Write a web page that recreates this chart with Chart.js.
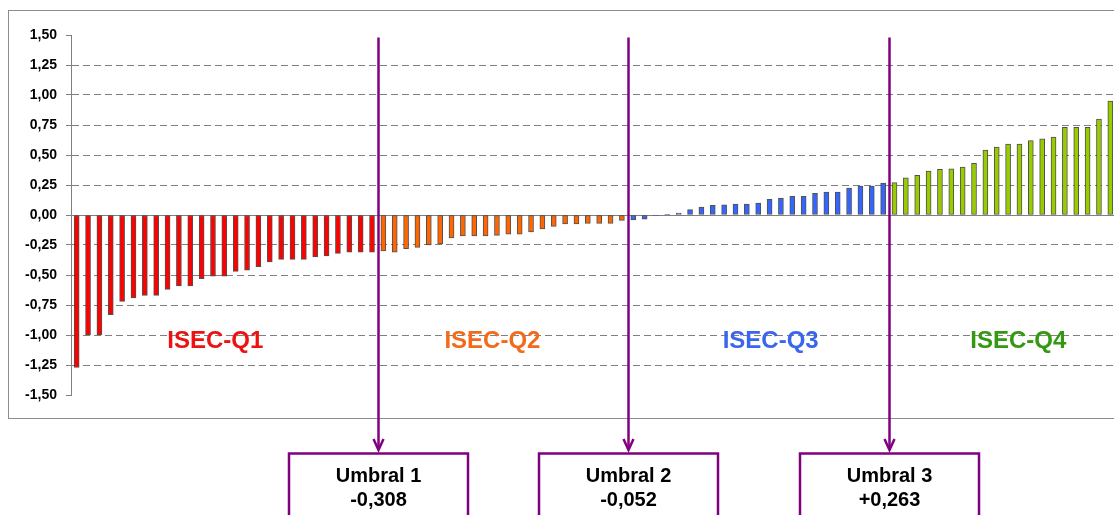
<!DOCTYPE html>
<html>
<head>
<meta charset="utf-8">
<script src="https://cdn.jsdelivr.net/npm/chart.js@4"></script>
<style>
  html, body { margin: 0; padding: 0; background: #fff; overflow: hidden; }
</style>
</head>
<body>
<canvas id="myChart" width="1120" height="515"></canvas>
<script>
// bar values per quartile group
var q1 = [-1.27, -1.00, -1.00, -0.83, -0.72, -0.69, -0.67, -0.67, -0.62, -0.59, -0.59, -0.53, -0.51, -0.51,
          -0.47, -0.46, -0.43, -0.39, -0.37, -0.37, -0.37, -0.35, -0.34, -0.32, -0.31, -0.31, -0.31];
var q2 = [-0.30, -0.31, -0.28, -0.27, -0.25, -0.24, -0.19, -0.175, -0.175, -0.175, -0.17, -0.16, -0.16,
          -0.14, -0.115, -0.095, -0.075, -0.075, -0.07, -0.07, -0.07, -0.045];
var q3 = [-0.04, -0.035, -0.005, 0.005, 0.015, 0.045, 0.065, 0.08, 0.085, 0.09, 0.09, 0.10, 0.13, 0.14,
          0.155, 0.155, 0.18, 0.19, 0.19, 0.225, 0.24, 0.24, 0.265];
var q4 = [0.27, 0.31, 0.33, 0.365, 0.38, 0.385, 0.40, 0.43, 0.54, 0.565, 0.59, 0.59, 0.62, 0.635, 0.65,
          0.73, 0.73, 0.73, 0.80, 0.95];

var groupNames = ['ISEC-Q1', 'ISEC-Q2', 'ISEC-Q3', 'ISEC-Q4'];
var thresholdNames = ['Umbral 1', 'Umbral 2', 'Umbral 3'];
var thresholds = [-0.308, -0.052, 0.263];

var groups = [q1, q2, q3, q4];
var fills = ['#ff0000', '#ff6600', '#3366ff', '#99cc00'];
var textColors = ['#ee1111', '#f26a1b', '#3a66ee', '#339911'];
var labelIdx = [12.2, 36.6, 61.1, 82.9];  // where the group names sit (category index)

var values = [], colors = [], labels = [], starts = [];
groups.forEach(function (g, gi) {
    starts.push(values.length);
    g.forEach(function (v) {
        labels.push(String(values.length + 1));
        values.push(v);
        colors.push(fills[gi]);
    });
});

var FONT = '"Liberation Sans", Arial, sans-serif';
var PURPLE = '#800080';

function fmt(v, d) {
    if (Math.abs(v) < 1e-9) v = 0;
    return v.toFixed(d).replace('.', ',');
}

var frame = {
    id: 'frame',
    beforeDraw: function (chart) {
        var c = chart.ctx;
        c.save();
        c.fillStyle = '#fff';
        c.fillRect(0, 0, chart.width, chart.height);
        c.strokeStyle = '#8c8c8c';
        c.lineWidth = 1;
        c.strokeRect(8.5, 10.5, 1120, 408);
        c.restore();
    }
};

var marks = {
    id: 'marks',
    afterDatasetsDraw: function (chart) {
        var c = chart.ctx, x = chart.scales.x, y = chart.scales.y;
        c.save();
        // group names
        c.font = 'bold 24px ' + FONT;
        c.textAlign = 'center';
        c.textBaseline = 'middle';
        groupNames.forEach(function (n, i) {
            c.fillStyle = textColors[i];
            c.fillText(n, x.getPixelForValue(labelIdx[i]), y.getPixelForValue(-1.05));
        });
        // threshold lines, arrows and boxes
        thresholds.forEach(function (t, i) {
            var px = Math.round(x.getPixelForValue(starts[i + 1] - 0.5)) + 0.5;
            var top = y.getPixelForValue(1.48);
            var tip = 450;
            c.strokeStyle = PURPLE;
            c.lineWidth = 2.5;
            c.beginPath();
            c.moveTo(px, top);
            c.lineTo(px, tip - 1);
            c.stroke();
            c.beginPath();
            c.moveTo(px - 5, tip - 11);
            c.lineTo(px, tip);
            c.lineTo(px + 5, tip - 11);
            c.stroke();
            c.strokeRect(px - 89.5, 453.5, 179, 80);
            c.fillStyle = '#000';
            c.font = 'bold 20px ' + FONT;
            c.fillText(thresholdNames[i], px, 476);
            c.fillText((t > 0 ? '+' : '') + fmt(t, 3), px, 500);
        });
        c.restore();
    }
};

var ctx = document.getElementById('myChart').getContext('2d');
var myChart = new Chart(ctx, {
    type: 'bar',
    data: {
        labels: labels,
        datasets: [{
            data: values,
            backgroundColor: colors,
            borderColor: 'rgba(50,50,50,0.85)',
            borderWidth: 1,
            borderSkipped: false,
            barThickness: 5
        }]
    },
    options: {
        responsive: false,
        animation: false,
        events: [],
        layout: { padding: { left: 8, top: 35, right: 4, bottom: 120 } },
        plugins: {
            legend: { display: false },
            tooltip: { enabled: false }
        },
        scales: {
            x: { display: false },
            y: {
                min: -1.5,
                max: 1.5,
                afterFit: function (s) { s.width = 63; },
                ticks: {
                    stepSize: 0.25,
                    padding: 9,
                    color: '#000',
                    font: { family: FONT, size: 14, weight: 'bold' },
                    callback: function (v) { return fmt(v, 2); }
                },
                grid: {
                    tickLength: 5,
                    tickColor: '#808080',
                    color: function (c) {
                        if (!c.tick) return '#808080';
                        return Math.abs(c.tick.value) > 1.49 ? 'rgba(0,0,0,0)' : '#808080';
                    }
                },
                border: {
                    color: '#808080',
                    dash: function (c) {
                        return c.tick && Math.abs(c.tick.value) < 1e-9 ? [] : [7, 4];
                    }
                }
            }
        }
    },
    plugins: [frame, marks]
});
</script>
</body>
</html>
